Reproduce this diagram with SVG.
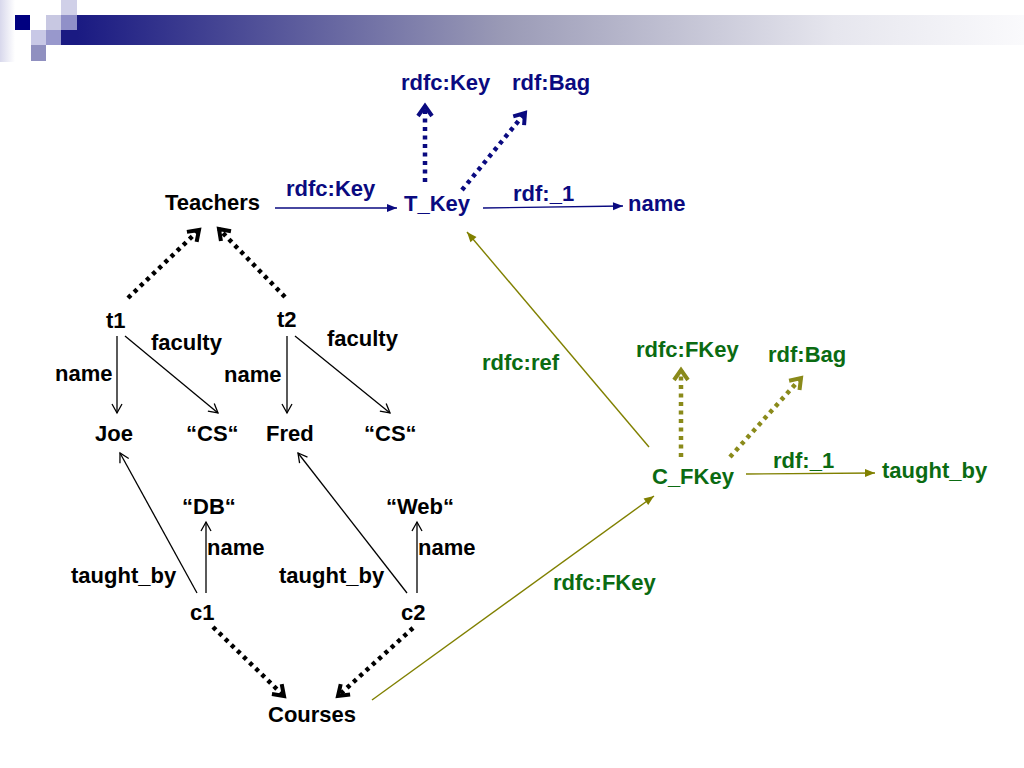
<svg xmlns="http://www.w3.org/2000/svg" width="1024" height="768" viewBox="0 0 1024 768">
<style>
text{font-family:"Liberation Sans",Arial,sans-serif;font-size:22px;font-weight:bold}
.k{fill:#000}
.n{fill:#0a0a80}
.g{fill:#0b6b12}
.lk{stroke:#000;stroke-width:1.3;fill:none}
.ln{stroke:#0a0a80;stroke-width:1.4;fill:none}
.lo{stroke:#808000;stroke-width:1.4;fill:none}
.dk{stroke:#000;stroke-width:4.5;stroke-dasharray:4 4.5;fill:none}
.dn{stroke:#0a0a80;stroke-width:4.5;stroke-dasharray:4 4.5;fill:none}
.do{stroke:#8a8a1a;stroke-width:4.5;stroke-dasharray:4 4.5;fill:none}
</style>
<defs>
<linearGradient id="bar" x1="0" y1="0" x2="1" y2="0">
<stop offset="0" stop-color="#1a1a82"/>
<stop offset="0.45" stop-color="#9a9ab6"/>
<stop offset="0.8" stop-color="#e6e6ee"/>
<stop offset="1" stop-color="#fafafc"/>
</linearGradient>
<linearGradient id="lband" x1="0" y1="0" x2="1" y2="0">
<stop offset="0" stop-color="#d8d8ec"/>
<stop offset="1" stop-color="#ffffff"/>
</linearGradient>
<marker id="aDk" viewBox="-14 -10 18 20" refX="0" refY="0" markerWidth="18" markerHeight="20" markerUnits="userSpaceOnUse" orient="auto">
<path d="M-10,-7 L0,0 L-10,7" fill="none" stroke="#000" stroke-width="4" stroke-linejoin="miter"/>
</marker>
<marker id="aDn" viewBox="-14 -10 18 20" refX="0" refY="0" markerWidth="18" markerHeight="20" markerUnits="userSpaceOnUse" orient="auto">
<path d="M-10,-7 L0,0 L-10,7" fill="none" stroke="#0a0a80" stroke-width="4"/>
</marker>
<marker id="aDo" viewBox="-14 -10 18 20" refX="0" refY="0" markerWidth="18" markerHeight="20" markerUnits="userSpaceOnUse" orient="auto">
<path d="M-10,-7 L0,0 L-10,7" fill="none" stroke="#8a8a1a" stroke-width="4"/>
</marker>
<marker id="aK" viewBox="-12 -7 14 14" refX="0" refY="0" markerWidth="14" markerHeight="14" markerUnits="userSpaceOnUse" orient="auto">
<path d="M-9,-5 L0,0 L-9,5" fill="none" stroke="#000" stroke-width="1.3"/>
</marker>
<marker id="aN" viewBox="-12 -6 14 12" refX="0" refY="0" markerWidth="14" markerHeight="12" markerUnits="userSpaceOnUse" orient="auto">
<path d="M-10,-4 L0,0 L-10,4 Z" fill="#0a0a80"/>
</marker>
<marker id="aO" viewBox="-12 -6 14 12" refX="0" refY="0" markerWidth="14" markerHeight="12" markerUnits="userSpaceOnUse" orient="auto">
<path d="M-10,-4 L0,0 L-10,4 Z" fill="#808000"/>
</marker>
</defs>
<rect width="1024" height="768" fill="#fff"/>
<g id="header">
<rect x="0" y="0" width="15" height="62" fill="url(#lband)"/>
<rect x="77" y="15" width="947" height="30" fill="url(#bar)"/>
<rect x="61" y="30" width="16" height="15" fill="#1a1a82"/>
<rect x="15" y="15" width="15" height="15" fill="#000080"/>
<rect x="46" y="15" width="15" height="15" fill="#c8c8e2"/>
<rect x="61" y="0" width="16" height="15" fill="#d0d0e8"/>
<rect x="61" y="15" width="16" height="15" fill="#9090c8"/>
<rect x="31" y="30" width="15" height="15" fill="#c8c8e6"/>
<rect x="46" y="30" width="15" height="15" fill="#9898cc"/>
<rect x="31" y="45" width="15" height="16" fill="#9090c0"/>
</g>
<g id="connectors">
<path class="ln" d="M275,208 L397,208" marker-end="url(#aN)"/>
<path class="ln" d="M483,208 L623,206" marker-end="url(#aN)"/>
<path class="dn" d="M425,182 L425,106" marker-end="url(#aDn)"/>
<path class="dn" d="M462,190 L525,113" marker-end="url(#aDn)"/>
<path class="dk" d="M128,298 L199,230" marker-end="url(#aDk)"/>
<path class="dk" d="M285,297 L219,229" marker-end="url(#aDk)"/>
<path class="lk" d="M117,336 L117,413" marker-end="url(#aK)"/>
<path class="lk" d="M125,336 L218,413" marker-end="url(#aK)"/>
<path class="lk" d="M287,336 L287,413" marker-end="url(#aK)"/>
<path class="lk" d="M295,336 L390,413" marker-end="url(#aK)"/>
<path class="lk" d="M197,593 L120,453" marker-end="url(#aK)"/>
<path class="lk" d="M206,593 L206,522" marker-end="url(#aK)"/>
<path class="lk" d="M407,593 L298,453" marker-end="url(#aK)"/>
<path class="lk" d="M417,593 L417,522" marker-end="url(#aK)"/>
<path class="dk" d="M213,627 L284,696" marker-end="url(#aDk)"/>
<path class="dk" d="M413,628 L338,696" marker-end="url(#aDk)"/>
<path class="lo" d="M372,700 L654,496" marker-end="url(#aO)"/>
<path class="lo" d="M649,447 L467,232" marker-end="url(#aO)"/>
<path class="lo" d="M746,474 L875,473" marker-end="url(#aO)"/>
<path class="do" d="M681,457 L681,370" marker-end="url(#aDo)"/>
<path class="do" d="M730,457 L801,378" marker-end="url(#aDo)"/>
</g>
<g id="edge-labels">
<text class="n" x="286" y="196">rdfc:Key</text>
<text class="n" x="513" y="201">rdf:_1</text>
<text class="k" x="151" y="350">faculty</text>
<text class="k" x="327" y="346">faculty</text>
<text class="k" x="55" y="381">name</text>
<text class="k" x="224" y="382">name</text>
<text class="k" x="207" y="555">name</text>
<text class="k" x="418" y="555">name</text>
<text class="k" x="71" y="583">taught_by</text>
<text class="k" x="279" y="583">taught_by</text>
<text class="g" x="482" y="370">rdfc:ref</text>
<text class="g" x="773" y="468">rdf:_1</text>
<text class="g" x="553" y="590">rdfc:FKey</text>
</g>
<g id="node-rdfcKey"><text class="n" x="401" y="90">rdfc:Key</text></g>
<g id="node-rdfBag"><text class="n" x="512" y="90">rdf:Bag</text></g>
<g id="node-Teachers"><text class="k" x="165" y="210">Teachers</text></g>
<g id="node-TKey"><text class="n" x="404" y="211">T_Key</text></g>
<g id="node-name"><text class="n" x="628" y="211">name</text></g>
<g id="node-t1"><text class="k" x="106" y="328">t1</text></g>
<g id="node-t2"><text class="k" x="277" y="327">t2</text></g>
<g id="node-Joe"><text class="k" x="95" y="441">Joe</text></g>
<g id="node-CS1"><text class="k" x="186" y="441">“CS“</text></g>
<g id="node-Fred"><text class="k" x="266" y="441">Fred</text></g>
<g id="node-CS2"><text class="k" x="364" y="441">“CS“</text></g>
<g id="node-DB"><text class="k" x="182" y="514">“DB“</text></g>
<g id="node-Web"><text class="k" x="386" y="514">“Web“</text></g>
<g id="node-c1"><text class="k" x="190" y="620">c1</text></g>
<g id="node-c2"><text class="k" x="401" y="620">c2</text></g>
<g id="node-Courses"><text class="k" x="268" y="722">Courses</text></g>
<g id="node-CFKey"><text class="g" x="652" y="484">C_FKey</text></g>
<g id="node-rdfcFKey"><text class="g" x="636" y="357">rdfc:FKey</text></g>
<g id="node-rdfBag2"><text class="g" x="768" y="362">rdf:Bag</text></g>
<g id="node-taughtby"><text class="g" x="882" y="478">taught_by</text></g>
</svg>
